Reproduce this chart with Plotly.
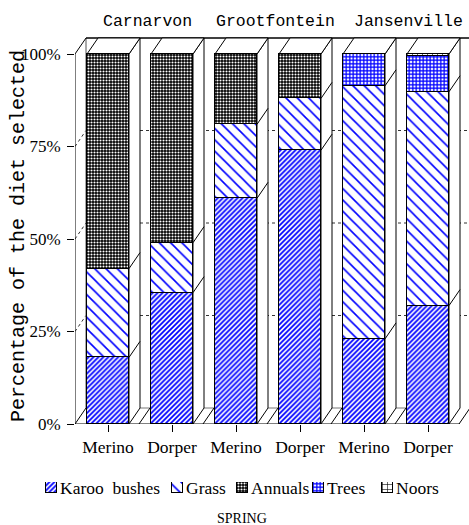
import plotly.graph_objects as go

# ---------------- data ----------------
groups = ["Carnarvon", "Grootfontein", "Jansenville"]
breeds = ["Merino", "Dorper", "Merino", "Dorper", "Merino", "Dorper"]
components = ["Karoo bushes", "Grass", "Annuals", "Trees", "Noors"]
karoo = [18.0, 35.5, 61.0, 74.0, 23.0, 32.0]
grass = [24.0, 13.5, 20.0, 14.0, 68.4, 57.8]
annuals = [58.0, 51.0, 19.0, 12.0, 0.0, 0.0]
trees = [0.0, 0.0, 0.0, 0.0, 8.6, 9.7]
noors = [0.0, 0.0, 0.0, 0.0, 0.0, 0.5]
y_tick_vals = [0, 25, 50, 75, 100]
y_tick_text = ["0%", "25%", "50%", "75%", "100%"]
y_title = "Percentage of the diet selected"
season = "SPRING"
series = [karoo, grass, annuals, trees, noors]

# ---------------- styles ----------------
BLUE = "#0000ff"
patterns = [
    dict(shape="/", fgcolor=BLUE, bgcolor="white", size=3.5, solidity=0.5),
    dict(shape="\\", fgcolor=BLUE, bgcolor="white", size=8, solidity=0.2),
    dict(shape=".", fgcolor="white", bgcolor="black", size=3, solidity=0.4),
    dict(shape="+", fgcolor=BLUE, bgcolor="white", size=3.5, solidity=0.6),
    dict(shape="+", fgcolor="black", bgcolor="white", size=5, solidity=0.22),
]
SERIF = "Liberation Serif"
MONO = "Liberation Mono"

W, H = 469, 525
# geometry (pixels)
PX_LEFT, PX_RIGHT = 75, 469
PX_ZERO, PX_TOP = 424, 34
PX_PER_PCT = 3.7
SLOT_PX = 64
CENTER0_PX = 108
BAR_W = 42 / SLOT_PX
DX = 11 / SLOT_PX
DY = 16 / PX_PER_PCT
XL = (PX_LEFT - CENTER0_PX) / SLOT_PX
XR = (PX_RIGHT - CENTER0_PX) / SLOT_PX
YTOP = (PX_ZERO - PX_TOP) / PX_PER_PCT

fig = go.Figure()

n = len(breeds)
xs = list(range(n))
for name, vals, pat in zip(components, series, patterns):
    fig.add_trace(go.Bar(
        x=xs, y=[v if v > 0 else None for v in vals], width=BAR_W, name=name,
        marker=dict(color="white", pattern=pat, line=dict(color="black", width=1)),
        showlegend=False, hoverinfo="skip"))

shapes = []
def line(x0, y0, x1, y1, color="black", width=1, dash="solid"):
    shapes.append(dict(type="line", xref="x", yref="y", x0=x0, y0=y0, x1=x1, y1=y1,
                       line=dict(color=color, width=width, dash=dash), layer="below"))

def poly(pts, fill="white", color="black"):
    path = "M " + " L ".join(f"{px},{py}" for px, py in pts) + " Z"
    shapes.append(dict(type="path", xref="x", yref="y", path=path, fillcolor=fill,
                       line=dict(color=color, width=1), layer="below"))

# back wall grid (dotted)
for v in y_tick_vals[1:-1]:
    line(XL + DX, v + DY, XR, v + DY, color="#333", dash="dot")
    line(XL, v, XL + DX, v + DY, color="#333", dash="dot")
# back floor and back left edge
last_x1 = (n - 1) + BAR_W / 2
line(XL + DX, DY, last_x1 + DX, DY, color="#777")
line(XL + DX, DY, XL + DX, 100 + DY, color="#555")
# top frame
line(XL + DX, 100 + DY, XR, 100 + DY, color="black", width=1.5)
# left wall
line(XL, 0, XL, 100)
line(XL, 100, XL + DX, 100 + DY)
line(XL, 0, XL + DX, DY)
# floor slot dividers
for k in range(1, n + 1):
    b = XL + k
    line(b, 0, b + DX, DY)
# front floor line
line(XL, 0, last_x1 + DX, 0)

# 3D faces of bars
for i in range(n):
    vals = [s[i] for s in series]
    total = sum(vals)
    x0 = i - BAR_W / 2
    x1 = i + BAR_W / 2
    poly([(x1, 0), (x1 + DX, DY), (x1 + DX, total + DY), (x1, total)])
    poly([(x0, total), (x0 + DX, total + DY), (x1 + DX, total + DY), (x1, total)])
    c = 0
    for v in vals[:-1]:
        c += v
        if v > 0 and c < total - 0.6:
            line(x1, c, x1 + DX, c + DY)

# ---------------- legend (manual) ----------------
legend_left_px = [46, 172, 237, 313, 382]
legend_labels = ["Karoo  bushes", "Grass", "Annuals", "Trees", "Noors"]
SW = 11
for name, pat, lx in zip(components, patterns, legend_left_px):
    fig.add_trace(go.Bar(
        x=[lx + SW / 2], y=[1], width=[SW], xaxis="x2", yaxis="y2",
        marker=dict(color="white", pattern=pat, line=dict(color="black", width=1)),
        showlegend=False, hoverinfo="skip", name=name))

annotations = []
for lab, lx in zip(legend_labels, legend_left_px):
    annotations.append(dict(text=lab, xref="paper", yref="paper", x=(lx + SW + 1) / W,
                            y=(H - 488) / H, xanchor="left", yanchor="middle", showarrow=False,
                            font=dict(family=SERIF, size=17.5, color="black")))
annotations.append(dict(text=season, xref="paper", yref="paper", x=242 / W, y=(H - 518) / H,
                        xanchor="center", yanchor="middle", showarrow=False,
                        font=dict(family=SERIF, size=14, color="black")))
# group titles
title_px = [147, 275, 408]
for name, tx in zip(groups, title_px):
    annotations.append(dict(text=name, xref="paper", yref="paper", x=tx / W,
                            y=(H - 22) / H, xanchor="center", yanchor="middle", showarrow=False,
                            font=dict(family=MONO, size=16.5, color="black")))
# y title
annotations.append(dict(text=y_title, xref="paper", yref="paper", x=18 / W, y=(H - 236) / H,
                        textangle=-90, xanchor="center", yanchor="middle", showarrow=False,
                        font=dict(family=MONO, size=20, color="black")))

fig.update_layout(
    template="none",
    width=W, height=H, margin=dict(l=0, r=0, t=0, b=0, pad=0, autoexpand=False),
    paper_bgcolor="white", plot_bgcolor="white",
    barmode="stack", bargap=0, showlegend=False,
    xaxis=dict(domain=[PX_LEFT / W, PX_RIGHT / W], range=[XL, XR], automargin=False,
               tickvals=xs, ticktext=breeds, ticks="outside", ticklen=7, tickcolor="black",
               ticklabelstandoff=0,
               showgrid=False, zeroline=False, showline=False,
               tickfont=dict(family=SERIF, size=17.5, color="black")),
    yaxis=dict(domain=[(H - PX_ZERO) / H, (H - PX_TOP) / H], range=[0, YTOP], automargin=False,
               tickvals=y_tick_vals, ticktext=y_tick_text, ticks="outside", ticklen=7,
               ticklabelstandoff=3,
               tickcolor="black", showgrid=False, zeroline=False, showline=False,
               tickfont=dict(family=SERIF, size=17, color="black")),
    xaxis2=dict(domain=[0, 1], range=[0, W], visible=False, anchor="y2"),
    yaxis2=dict(domain=[(H - 493) / H, (H - 482) / H], range=[0, 1], visible=False, anchor="x2"),
    shapes=shapes, annotations=annotations,
)

fig.write_html("out.html", config={"displayModeBar": False},
               post_script="document.body.style.margin='0';document.body.style.overflow='hidden';")
